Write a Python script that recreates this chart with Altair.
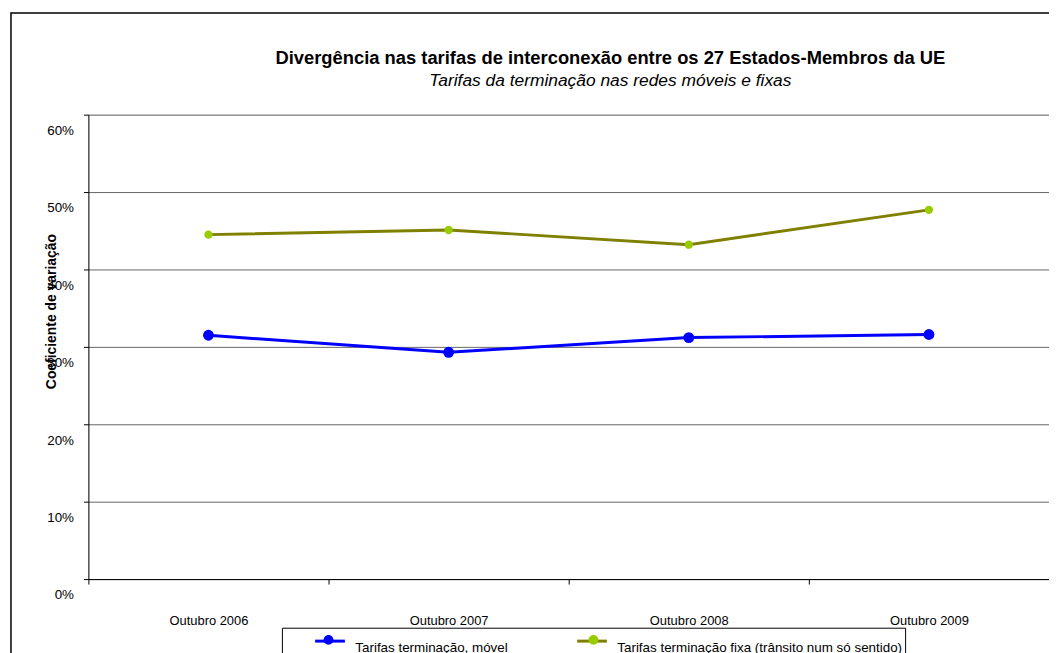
import altair as alt
import pandas as pd

periods = ["Outubro 2006", "Outubro 2007", "Outubro 2008", "Outubro 2009"]
mobile = [0.315, 0.293, 0.312, 0.316]
fixed = [0.445, 0.451, 0.432, 0.477]
series_names = ["Tarifas terminação, móvel", "Tarifas terminação fixa (trânsito num só sentido)"]
y_ticks = [0, 0.1, 0.2, 0.3, 0.4, 0.5, 0.6]

rows = []
for s, vals in zip(series_names, [mobile, fixed]):
    for p, v in zip(periods, vals):
        rows.append({"period": p, "value": v, "series": s, "series_f": s})
df = pd.DataFrame(rows)

W, H = 968, 468
FONT = "Liberation Sans"

x_enc = alt.X("period:N", sort=periods, title=None,
              scale=alt.Scale(type="band", paddingInner=0, paddingOuter=0),
              bandPosition=0.5,
              axis=alt.Axis(tickBand="extent", labelAngle=0, labelFontSize=13, labelFont=FONT,
                            labelColor="black", tickSize=5, tickColor="black", domainColor="black",
                            labelPadding=31, grid=False))
y_enc = alt.Y("value:Q", title="Coeficiente de variação",
              scale=alt.Scale(domain=[0, 0.6], nice=False),
              axis=alt.Axis(values=y_ticks, format=".0%", labelFontSize=13.5, labelFont=FONT,
                            labelColor="black", labelOffset=16, labelPadding=10, tickSize=5,
                            tickColor="black", domainColor="black", grid=True, gridColor="#666",
                            titleFont=FONT, titleFontSize=14, titleFontWeight="bold",
                            titleColor="black", titleX=-30, titleY=198))

common_legend = dict(orient="none", legendX=195, legendY=517, direction="horizontal",
                     title=None, labelFont=FONT, labelFontSize=13.5, labelColor="black",
                     labelBaseline="top", labelLimit=500, symbolSize=400, symbolOffset=35,
                     padding=2, labelOffset=14)

stroke_legend = alt.Legend(symbolType="M-1.5,0L1.5,0", symbolStrokeWidth=3,
                           symbolFillColor="transparent", columnPadding=38,
                           strokeColor="black", **common_legend)
# marker dots drawn on top of the legend lines (labels come from the legend above)
fill_legend = alt.Legend(symbolType="M-1.5,0L1.5,0M-0.5,0A0.5,0.5,0,1,1,0.5,0A0.5,0.5,0,1,1,-0.5,0Z",
                         symbolStrokeWidth=0, labelExpr="''", columnPadding=198,
                         **common_legend)

lines = alt.Chart(df).mark_line(strokeWidth=3).encode(
    x=x_enc, y=y_enc,
    stroke=alt.Stroke("series:N", sort=series_names,
                      scale=alt.Scale(range=["#0000FF", "#808000"]), legend=stroke_legend),
)
points = alt.Chart(df).mark_point(filled=True, opacity=1).encode(
    x=x_enc, y=y_enc,
    fill=alt.Fill("series_f:N", sort=series_names,
                  scale=alt.Scale(range=["#0000FF", "#99CC00"]), legend=fill_legend),
    size=alt.Size("series_f:N", sort=series_names, scale=alt.Scale(range=[120, 70]), legend=None),
)
frame = alt.Chart(alt.Data(values=[{}])).mark_rect(fill="transparent", stroke="black", strokeWidth=1.5).encode(
    x=alt.value(-78), x2=alt.value(1300), y=alt.value(-102.5), y2=alt.value(900)
)

chart = alt.layer(frame, lines, points).properties(
    width=W, height=H,
    title=alt.TitleParams(
        text="Divergência nas tarifas de interconexão entre os 27 Estados-Membros da UE",
        subtitle="Tarifas da terminação nas redes móveis e fixas",
        font=FONT, fontSize=18.5, fontWeight="bold", color="black",
        subtitleFont=FONT, subtitleFontSize=17.5, subtitleFontStyle="italic", subtitleColor="black",
        subtitlePadding=5, anchor="middle", dx=42, dy=108, offset=30, frame="group"),
    autosize=alt.AutoSizeParams(type="none"),
    padding={"left": 81, "top": 105, "right": 0, "bottom": 72},
).configure_view(stroke=None).configure(background="white")

chart.save("out.html", embed_options={"renderer": "svg", "actions": False})
